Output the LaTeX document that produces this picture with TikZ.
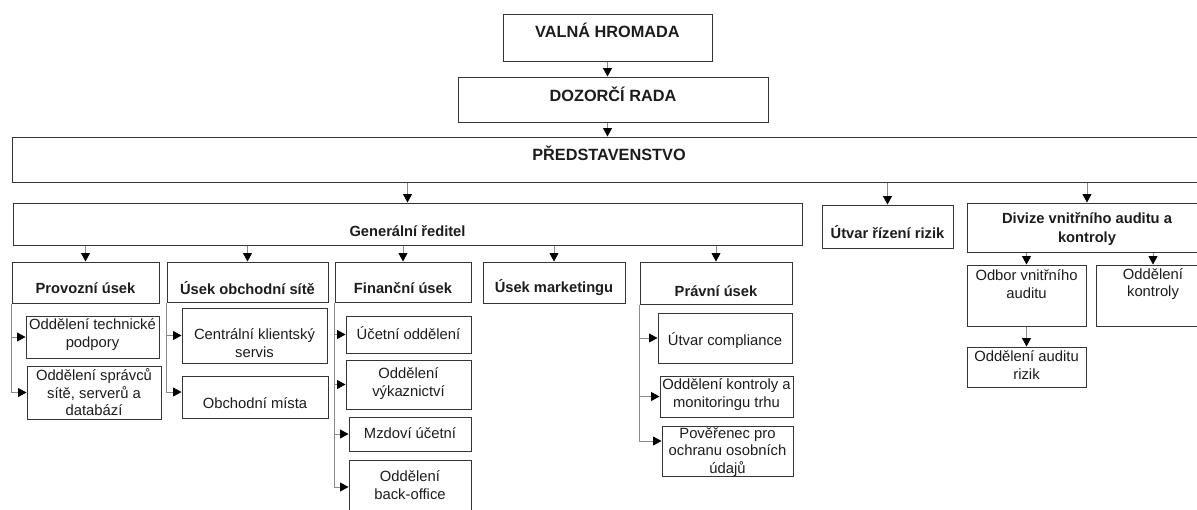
\documentclass[tikz,border=0pt]{standalone}
\usepackage{fontspec}
\setmainfont{Liberation Sans}
\usetikzlibrary{arrows.meta}
\definecolor{boxgray}{HTML}{353535}
\definecolor{linegray}{HTML}{8A8A8A}
\definecolor{inkgray}{HTML}{1C1C1C}

\begin{document}
\begin{tikzpicture}[
    x=1pt, y=-1pt,
    box/.style={
      draw=boxgray,
      line width=1pt,
      inner sep=0pt
    },
    top/.style={
      text=inkgray,
      font=\fontsize{16.3}{19}\selectfont\bfseries
    },
    unit/.style={
      text=inkgray,
      align=center,
      font=\fontsize{14.7}{19}\selectfont\bfseries
    },
    dept/.style={
      text=inkgray,
      align=center,
      font=\fontsize{14.8}{17.4}\selectfont
    },
    arr/.style={
      draw=linegray,
      line width=0.8pt,
      -{Triangle[width=9pt,length=8.5pt,color=black]}
    }
    ]
    \useasboundingbox (0,0) rectangle (1197,509);
    \clip (0,0) rectangle (1197,509);

    \node[box,minimum width=209pt,minimum height=47pt,
      label={[top,yshift=7.5pt]center:VALNÁ HROMADA}] (valna) at (607.5,37.5) {};
    \node[box,minimum width=310pt,minimum height=45pt,
      label={[top,yshift=5.5pt]center:DOZORČÍ RADA}] (dozorci) at (613,99.5) {};
    \node[box,minimum width=1194pt,minimum height=45pt,
      label={[top,yshift=6.5pt]center:PŘEDSTAVENSTVO}] (pred) at (609,159.5) {};

    \node[box,minimum width=789pt,minimum height=42pt,
      label={[unit,yshift=-7pt]center:Generální ředitel}] (gr) at (407.5,224) {};
    \node[box,minimum width=131pt,minimum height=43pt,
      label={[unit,yshift=-5.5pt]center:Útvar řízení rizik}] (rizik) at (887.5,226.5) {};
    \node[box,minimum width=240pt,minimum height=49pt,
      label={[unit,yshift=-1.5pt]center:{Divize vnitřního auditu a\\kontroly}}] (divize) at (1087,227.5) {};

    \node[box,minimum width=147pt,minimum height=41pt,
      label={[unit,yshift=-5.5pt]center:Provozní úsek}] (provozni) at (85.5,282.5) {};
    \node[box,minimum width=161pt,minimum height=40pt,
      label={[unit,yshift=-6pt]center:Úsek obchodní sítě}] (obchodni) at (247.5,282) {};
    \node[box,minimum width=136pt,minimum height=40pt,
      label={[unit,yshift=-6.5pt]center:Finanční úsek}] (financni) at (403,282) {};
    \node[box,minimum width=142pt,minimum height=41pt,
      label={[unit,yshift=-5.5pt]center:Úsek marketingu}] (marketing) at (554,282.5) {};
    \node[box,minimum width=152pt,minimum height=42pt,
      label={[unit,yshift=-8pt]center:Právní úsek}] (pravni) at (716,283) {};

    \node[box,minimum width=133pt,minimum height=42pt,
      label={[dept,yshift=2.5pt]center:{Oddělení technické\\podpory}}] (techpod) at (92.5,337) {};
    \node[box,minimum width=134pt,minimum height=53pt,
      label={[dept]center:{Oddělení správců\\sítě, serverů a\\databází}}] (spravci) at (94,392.5) {};

    \node[box,minimum width=145pt,minimum height=55pt,
      label={[dept,yshift=-7.5pt]center:{Centrální klientský\\servis}}] (centralni) at (254.5,335.5) {};
    \node[box,minimum width=146pt,minimum height=42pt,
      label={[dept,yshift=-6pt]center:Obchodní místa}] (mista) at (255,397) {};

    \node[box,minimum width=125pt,minimum height=37pt,
      label={[dept,yshift=1.5pt]center:Účetní oddělení}] (ucetni) at (408.5,334.5) {};
    \node[box,minimum width=125pt,minimum height=49pt,
      label={[dept,yshift=1pt]center:{Oddělení\\výkaznictví}}] (vykaz) at (408.5,384.5) {};
    \node[box,minimum width=122pt,minimum height=34pt,
      label={[dept,yshift=1pt]center:Mzdoví účetní}] (mzdovi) at (410,434) {};
    \node[box,minimum width=122pt,minimum height=54pt,
      label={[dept,yshift=2pt]center:{Oddělení\\back-office}}] (backoff) at (410,487) {};

    \node[box,minimum width=134pt,minimum height=50pt,
      label={[dept,yshift=-3pt]center:Útvar compliance}] (compliance) at (725,338) {};
    \node[box,minimum width=133pt,minimum height=41pt,
      label={[dept,yshift=2pt]center:{Oddělení kontroly a\\monitoringu trhu}}] (trh) at (726.5,396.5) {};
    \node[box,minimum width=131pt,minimum height=50pt,
      label={[dept,yshift=-1pt]center:{Pověřenec pro\\ochranu osobních\\údajů}}] (poverenec) at (727.5,451) {};

    \node[box,minimum width=119pt,minimum height=61pt,
      label={[dept,yshift=11.5pt]center:{Odbor vnitřního\\auditu}}] (odbor) at (1026.5,295.5) {};
    \node[box,minimum width=114pt,minimum height=61pt,
      label={[dept,yshift=11.5pt]center:{Oddělení\\kontroly}}] (oddkontroly) at (1153,295.5) {};
    \node[box,minimum width=119pt,minimum height=40pt,
      label={[dept,yshift=2pt]center:{Oddělení auditu\\rizik}}] (auditrizik) at (1026.5,367) {};

    \draw[arr] (valna) -- (valna |- dozorci.north);
    \draw[arr] (valna |- dozorci.south) -- (valna |- pred.north);
    \draw[arr] (pred.south -| gr) -- (gr);
    \draw[arr] (pred.south -| rizik) -- (rizik);
    \draw[arr] (pred.south -| divize) -- (divize);

    \foreach \s in {provozni,obchodni,financni,marketing,pravni}
      \draw[arr] (gr.south -| \s) -- (\s);

    \foreach \d in {techpod,spravci}
      \draw[arr] (provozni.south west) |- (\d);
    \draw[arr] (obchodni.south west) |- (centralni);
    \draw[arr] (obchodni.south west) |- ([yshift=5pt]mista.west);
    \foreach \d in {ucetni,vykaz,mzdovi,backoff}
      \draw[arr] (financni.south west) |- (\d);
    \foreach \d in {compliance,trh}
      \draw[arr] (pravni.south west) |- (\d);
    \draw[arr] (pravni.south west) |- ([yshift=10pt]poverenec.west);

    \draw[arr] (divize.south -| odbor) -- (odbor);
    \draw[arr] (divize.south -| oddkontroly) -- (oddkontroly);
    \draw[arr] (odbor) -- (auditrizik);
\end{tikzpicture}
\end{document}
